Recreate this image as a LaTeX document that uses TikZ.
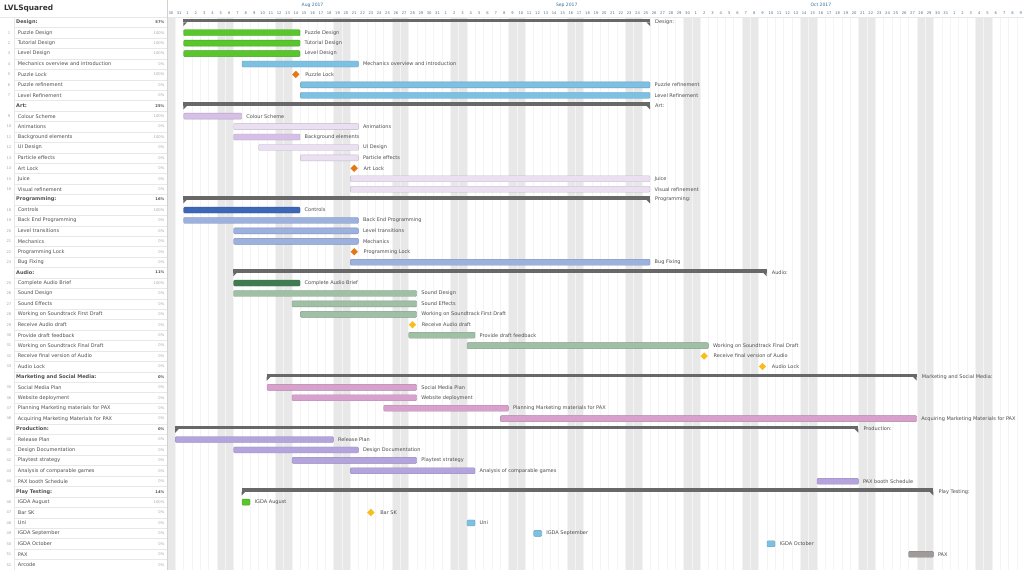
\documentclass[tikz,border=0pt]{standalone}
\usepackage{fontspec}
\setmainfont{DejaVu Sans}
\usetikzlibrary{positioning, shapes.geometric}

\definecolor{weekend}{RGB}{232,232,232}
\definecolor{gridday}{RGB}{244,244,244}
\definecolor{rowline}{RGB}{232,232,232}
\definecolor{summary}{RGB}{104,104,104}
\definecolor{txt}{RGB}{78,78,78}
\definecolor{numgray}{RGB}{165,165,165}
\definecolor{monthblue}{RGB}{52,112,152}
\definecolor{dayblue}{RGB}{84,112,138}
\definecolor{doneGreen}{RGB}{88,198,44}
\definecolor{skyBlue}{RGB}{124,192,226}
\definecolor{lockOrange}{RGB}{230,120,20}
\definecolor{lockAmber}{RGB}{248,190,30}
\definecolor{artDone}{RGB}{214,192,230}
\definecolor{artTodo}{RGB}{234,224,242}
\definecolor{progDone}{RGB}{62,102,182}
\definecolor{progTodo}{RGB}{156,177,222}
\definecolor{audDone}{RGB}{64,124,82}
\definecolor{audTodo}{RGB}{160,192,166}
\definecolor{mktPink}{RGB}{216,160,204}
\definecolor{prodLilac}{RGB}{180,164,222}
\definecolor{paxGray}{RGB}{160,154,154}

\tikzset{
  taskbar/.style={draw=#1!82!black, fill=#1, rounded corners=1pt, line width=0.35pt,
    inner sep=0pt, minimum height=6pt, anchor=west},
  milestone/.style={diamond, fill=#1, inner sep=0pt, minimum size=7.5pt},
  chartlabel/.style={font=\fontsize{5}{6}\selectfont, text=txt, inner sep=0pt, anchor=west},
  tasklabel/.style={font=\fontsize{5}{6}\selectfont, text=txt, inner sep=0pt, anchor=west},
  grouplabel/.style={font=\fontsize{5}{6}\selectfont\bfseries, text=txt, inner sep=0pt, anchor=west},
  numlabel/.style={font=\fontsize{3.7}{4.5}\selectfont, text=numgray, inner sep=0pt},
  pctlabel/.style={font=\fontsize{3.7}{4.5}\selectfont, text=numgray, inner sep=0pt, anchor=east},
  grouppct/.style={font=\fontsize{3.7}{4.5}\selectfont\bfseries, text=txt, inner sep=0pt, anchor=east},
  daylabel/.style={font=\fontsize{3.7}{4.5}\selectfont, text=dayblue, inner sep=0pt},
  monthlabel/.style={font=\fontsize{4.5}{5.5}\selectfont, text=monthblue, inner sep=0pt}
}

\begin{document}
\begin{tikzpicture}[x=1pt, y=-1pt]

	\fill[white] (0,0) rectangle (1024,570);
	\useasboundingbox (0,0) rectangle (1024,570);

	% weekends and day grid
	\fill[weekend] (166.7,17.1) rectangle (175.03,570);
	\foreach \w in {0,...,14}{
		\fill[weekend] ({166.7+8.333*(7*\w+6)},17.1) rectangle ({166.7+8.333*(7*\w+8)},570);
	}
	\foreach \d in {1,...,103}{
		\draw[gridday, line width=0.3pt] ({166.7+8.333*\d},17.1) -- ({166.7+8.333*\d},570);
	}

	% header
	\node[font=\fontsize{7.4}{9}\selectfont\bfseries, text=black!80, anchor=west, inner sep=0pt] (title) at (4,8) {LVLSquared};
	\node[monthlabel] (aug) at ({166.7+8.333*17.5},5) {Aug 2017};
	\node[monthlabel] (sep) at ({166.7+8.333*48},5) {Sep 2017};
	\node[monthlabel] (oct) at ({166.7+8.333*78.5},5) {Oct 2017};
	\foreach \off/\first/\last in {-30/30/31, 1/1/31, 32/1/30, 62/1/31, 93/1/9}{
		\foreach \k in {\first,...,\last}{
			\node[daylabel] (day-\off-\k) at ({166.7+8.333*(\k+\off+0.5)},13.6) {\k};
		}
	}
	\draw[rowline] (0,17.1) -- (1024,17.1);

	% task table
	\foreach \r in {1,...,52}{
		\draw[rowline, line width=0.35pt] (14,{17.1+10.43*\r}) -- (166.7,{17.1+10.43*\r});
	}
	\draw[rowline] (14,17.1) -- (14,570);
	\draw[black!18] (166.7,0) -- (166.7,570);

	\foreach \r/\lbl/\pct in {0/Design:/57, 8/Art:/25, 17/Programming:/16, 24/Audio:/11,
		34/Marketing and Social Media:/0, 39/Production:/0, 45/Play Testing:/14}{
		\node[grouplabel] (grp-\r) at (16,{22.3+10.43*\r}) {\lbl};
		\node[grouppct] (gpct-\r) at (164.5,{22.3+10.43*\r}) {\pct\%};
	}

	\foreach \r/\lbl/\pct in {1/Puzzle Design/100, 2/Tutorial Design/100, 3/Level Design/100,
		4/Mechanics overview and introduction/0, 5/Puzzle Lock/100, 6/Puzzle refinement/0,
		7/Level Refinement/0, 9/Colour Scheme/100, 10/Animations/0, 11/Background elements/100,
		12/UI Design/0, 13/Particle effects/0, 14/Art Lock/0, 15/Juice/0, 16/Visual refinement/0,
		18/Controls/100, 19/Back End Programming/0, 20/Level transitions/0, 21/Mechanics/0,
		22/Programming Lock/0, 23/Bug Fixing/0, 25/Complete Audio Brief/100, 26/Sound Design/0,
		27/Sound Effects/0, 28/Working on Soundtrack First Draft/0, 29/Receive Audio draft/0,
		30/Provide draft feedback/0, 31/Working on Soundtrack Final Draft/0,
		32/Receive final version of Audio/0, 33/Audio Lock/0, 35/Social Media Plan/0,
		36/Website deployment/0, 37/Planning Marketing materials for PAX/0,
		38/Acquiring Marketing Materials for PAX/0, 40/Release Plan/0, 41/Design Documentation/0,
		42/Playtest strategy/0, 43/Analysis of comparable games/0, 44/PAX booth Schedule/0,
		46/IGDA August/100, 47/Bar SK/0, 48/Uni/0, 49/IGDA September/0, 50/IGDA October/0,
		51/PAX/0, 52/Arcode/0}{
		\node[numlabel] (num-\r) at (9,{22.3+10.43*\r}) {\r};
		\node[tasklabel] (task-\r) at (17.7,{22.3+10.43*\r}) {\lbl};
		\node[pctlabel] (pct-\r) at (164.5,{22.3+10.43*\r}) {\pct\%};
	}

	% summary bars
	\foreach \r/\s/\e/\lbl in {0/2/58/Design:, 8/2/58/Art:, 17/2/58/Programming:, 24/8/72/Audio:,
		34/12/90/Marketing and Social Media:, 39/1/83/Production:, 45/9/92/Play Testing:}{
		\pgfmathsetmacro\xa{166.7+8.333*\s}
		\pgfmathsetmacro\xb{166.7+8.333*\e}
		\pgfmathsetmacro\yc{22.3+10.43*\r}
		\coordinate (sumA-\r) at (\xa,\yc);
		\coordinate (sumB-\r) at (\xb,\yc);
		\fill[summary] (\xa,{\yc-3.3}) rectangle (\xb,\yc);
		\fill[summary] (\xa,\yc) -- (\xa,{\yc+3.7}) -- ({\xa+3.7},\yc) -- cycle;
		\fill[summary] (\xb,\yc) -- (\xb,{\yc+3.7}) -- ({\xb-3.7},\yc) -- cycle;
		\node[chartlabel, right=5pt of sumB-\r] (sum-\r) {\lbl};
	}

	% task bars
	\foreach \r/\s/\e/\c/\lbl in {1/2/16/doneGreen/Puzzle Design, 2/2/16/doneGreen/Tutorial Design,
		3/2/16/doneGreen/Level Design, 4/9/23/skyBlue/Mechanics overview and introduction,
		6/16/58/skyBlue/Puzzle refinement, 7/16/58/skyBlue/Level Refinement,
		9/2/9/artDone/Colour Scheme, 10/8/23/artTodo/Animations, 11/8/16/artDone/Background elements,
		12/11/23/artTodo/UI Design, 13/16/23/artTodo/Particle effects, 15/22/58/artTodo/Juice,
		16/22/58/artTodo/Visual refinement, 18/2/16/progDone/Controls,
		19/2/23/progTodo/Back End Programming, 20/8/23/progTodo/Level transitions,
		21/8/23/progTodo/Mechanics, 23/22/58/progTodo/Bug Fixing,
		25/8/16/audDone/Complete Audio Brief, 26/8/30/audTodo/Sound Design,
		27/15/30/audTodo/Sound Effects, 28/16/30/audTodo/Working on Soundtrack First Draft,
		30/29/37/audTodo/Provide draft feedback, 31/36/65/audTodo/Working on Soundtrack Final Draft,
		35/12/30/mktPink/Social Media Plan, 36/15/30/mktPink/Website deployment,
		37/26/41/mktPink/Planning Marketing materials for PAX,
		38/40/90/mktPink/Acquiring Marketing Materials for PAX,
		40/1/20/prodLilac/Release Plan, 41/8/23/prodLilac/Design Documentation,
		42/15/30/prodLilac/Playtest strategy, 43/22/37/prodLilac/Analysis of comparable games,
		44/78/83/prodLilac/PAX booth Schedule, 46/9/10/doneGreen/IGDA August,
		48/36/37/skyBlue/Uni, 49/44/45/skyBlue/IGDA September, 50/72/73/skyBlue/IGDA October,
		51/89/92/paxGray/PAX}{
		\node[taskbar=\c, minimum width={(\e-\s)*8.333pt-0.35pt}] (bar-\r)
			at ({166.7+8.333*\s+0.18},{22.3+10.43*\r}) {};
		\node[chartlabel, right=4.3pt of bar-\r] (lab-\r) {\lbl};
	}

	% milestones
	\foreach \r/\d/\c/\lbl in {5/15/lockOrange/Puzzle Lock, 14/22/lockOrange/Art Lock,
		22/22/lockOrange/Programming Lock, 29/29/lockAmber/Receive Audio draft,
		32/64/lockAmber/Receive final version of Audio, 33/71/lockAmber/Audio Lock,
		47/24/lockAmber/Bar SK}{
		\node[milestone=\c] (ms-\r) at ({166.7+8.333*(\d+0.5)},{22.3+10.43*\r}) {};
		\node[chartlabel, right=5.3pt of ms-\r] (mlab-\r) {\lbl};
	}

\end{tikzpicture}
\end{document}
